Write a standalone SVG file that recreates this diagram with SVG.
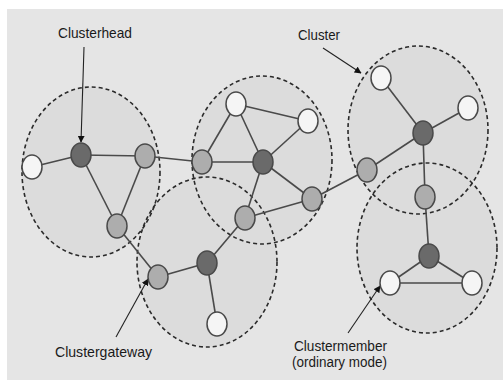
<svg xmlns="http://www.w3.org/2000/svg" width="503" height="380" viewBox="0 0 503 380">
<defs>
<marker id="ah" viewBox="0 0 10 10" refX="9" refY="5" markerWidth="7" markerHeight="7" orient="auto" markerUnits="userSpaceOnUse">
<path d="M0,0 L10,5 L0,10 z" fill="#111"/>
</marker>
</defs>
<style>
.cf{fill:#dcdcdc;stroke:none}
.cl{fill:none;stroke:#2a2a2a;stroke-width:1.6;stroke-dasharray:4 3}
.e{stroke:#4a4a4a;stroke-width:1.6;fill:none}
.p{stroke:#222;stroke-width:1.1;fill:none;marker-end:url(#ah)}
.n{stroke:#4a4a4a;stroke-width:1.5}
.h{fill:#6a6a6a}
.g{fill:#adadad}
.w{fill:#f5f5f5}
.t{font-family:"Liberation Sans",Arial,sans-serif;font-size:15px;fill:#1a1a1a}
.s{font-size:14px}
</style>
<rect x="0" y="0" width="503" height="380" fill="#ffffff"/>
<rect x="7" y="9" width="496" height="371" fill="#e5e5e5"/>
<g id="cluster-areas">
<ellipse class="cf" cx="91" cy="172" rx="69" ry="85"/>
<ellipse class="cf" cx="262" cy="160" rx="70" ry="84"/>
<ellipse class="cf" cx="207" cy="262" rx="70" ry="85"/>
<ellipse class="cf" cx="418" cy="130" rx="70" ry="84"/>
<ellipse class="cf" cx="427" cy="248" rx="70" ry="85"/>
</g>
<g id="clusters">
<ellipse class="cl" cx="91" cy="172" rx="69" ry="85"/>
<ellipse class="cl" cx="262" cy="160" rx="70" ry="84"/>
<ellipse class="cl" cx="207" cy="262" rx="70" ry="85"/>
<ellipse class="cl" cx="418" cy="130" rx="70" ry="84"/>
<ellipse class="cl" cx="427" cy="248" rx="70" ry="85"/>
</g>
<g id="connectors">
<line class="e" x1="32" y1="167" x2="81" y2="155"/>
<line class="e" x1="81" y1="155" x2="145" y2="156"/>
<line class="e" x1="81" y1="155" x2="117" y2="226"/>
<line class="e" x1="145" y1="156" x2="117" y2="226"/>
<line class="e" x1="145" y1="156" x2="202" y2="162"/>
<line class="e" x1="202" y1="162" x2="236" y2="104"/>
<line class="e" x1="202" y1="162" x2="263" y2="162"/>
<line class="e" x1="236" y1="104" x2="263" y2="162"/>
<line class="e" x1="236" y1="104" x2="308" y2="121"/>
<line class="e" x1="308" y1="121" x2="263" y2="162"/>
<line class="e" x1="263" y1="162" x2="312" y2="199"/>
<line class="e" x1="263" y1="162" x2="245" y2="218"/>
<line class="e" x1="245" y1="218" x2="312" y2="199"/>
<line class="e" x1="245" y1="218" x2="207" y2="263"/>
<line class="e" x1="117" y1="226" x2="158" y2="277"/>
<line class="e" x1="158" y1="277" x2="207" y2="263"/>
<line class="e" x1="207" y1="263" x2="217" y2="324"/>
<line class="e" x1="312" y1="199" x2="367" y2="170"/>
<line class="e" x1="367" y1="170" x2="423" y2="133"/>
<line class="e" x1="381" y1="78" x2="423" y2="133"/>
<line class="e" x1="468" y1="108" x2="423" y2="133"/>
<line class="e" x1="423" y1="133" x2="425" y2="197"/>
<line class="e" x1="425" y1="197" x2="429" y2="256"/>
<line class="e" x1="429" y1="256" x2="390" y2="283"/>
<line class="e" x1="429" y1="256" x2="472" y2="283"/>
<line class="e" x1="390" y1="283" x2="472" y2="283"/>
<line class="p" x1="84" y1="47" x2="81" y2="142"/>
<line class="p" x1="323" y1="48" x2="361" y2="73"/>
<line class="p" x1="116" y1="337" x2="148" y2="279"/>
<line class="p" x1="348" y1="333" x2="380" y2="286"/>
</g>
<g id="node-c1-member"><ellipse class="n w" cx="32" cy="167" rx="10" ry="12"/></g>
<g id="node-c1-head"><ellipse class="n h" cx="81" cy="155" rx="10" ry="12"/></g>
<g id="node-c1-gw-right"><ellipse class="n g" cx="145" cy="156" rx="10" ry="12"/></g>
<g id="node-c1-gw-bottom"><ellipse class="n g" cx="117" cy="226" rx="10" ry="12"/></g>
<g id="node-c2-gw-left"><ellipse class="n g" cx="202" cy="162" rx="10" ry="12"/></g>
<g id="node-c2-member-top"><ellipse class="n w" cx="236" cy="104" rx="10" ry="12"/></g>
<g id="node-c2-member-right"><ellipse class="n w" cx="308" cy="121" rx="10" ry="12"/></g>
<g id="node-c2-head"><ellipse class="n h" cx="263" cy="162" rx="10" ry="12"/></g>
<g id="node-c2-gw-br"><ellipse class="n g" cx="312" cy="199" rx="10" ry="12"/></g>
<g id="node-c2-gw-bottom"><ellipse class="n g" cx="245" cy="218" rx="10" ry="12"/></g>
<g id="node-c3-gw"><ellipse class="n g" cx="158" cy="277" rx="10" ry="12"/></g>
<g id="node-c3-head"><ellipse class="n h" cx="207" cy="263" rx="10" ry="12"/></g>
<g id="node-c3-member"><ellipse class="n w" cx="217" cy="324" rx="10" ry="12"/></g>
<g id="node-c4-member-top"><ellipse class="n w" cx="381" cy="78" rx="10" ry="12"/></g>
<g id="node-c4-member-right"><ellipse class="n w" cx="468" cy="108" rx="10" ry="12"/></g>
<g id="node-c4-head"><ellipse class="n h" cx="423" cy="133" rx="10" ry="12"/></g>
<g id="node-c4-gw-left"><ellipse class="n g" cx="367" cy="170" rx="10" ry="12"/></g>
<g id="node-c45-gw"><ellipse class="n g" cx="425" cy="197" rx="10" ry="12"/></g>
<g id="node-c5-head"><ellipse class="n h" cx="429" cy="256" rx="10" ry="12"/></g>
<g id="node-c5-member-left"><ellipse class="n w" cx="390" cy="283" rx="10" ry="12"/></g>
<g id="node-c5-member-right"><ellipse class="n w" cx="472" cy="283" rx="10" ry="12"/></g>
<g id="labels">
<text class="t" x="58" y="38" textLength="74" lengthAdjust="spacingAndGlyphs">Clusterhead</text>
<text class="t" x="298" y="40" textLength="42" lengthAdjust="spacingAndGlyphs">Cluster</text>
<text class="t" x="55" y="357" textLength="97" lengthAdjust="spacingAndGlyphs">Clustergateway</text>
<text class="t s" x="294" y="351" textLength="93" lengthAdjust="spacingAndGlyphs">Clustermember</text>
<text class="t s" x="292" y="367" textLength="95" lengthAdjust="spacingAndGlyphs">(ordinary mode)</text>
</g>
</svg>
